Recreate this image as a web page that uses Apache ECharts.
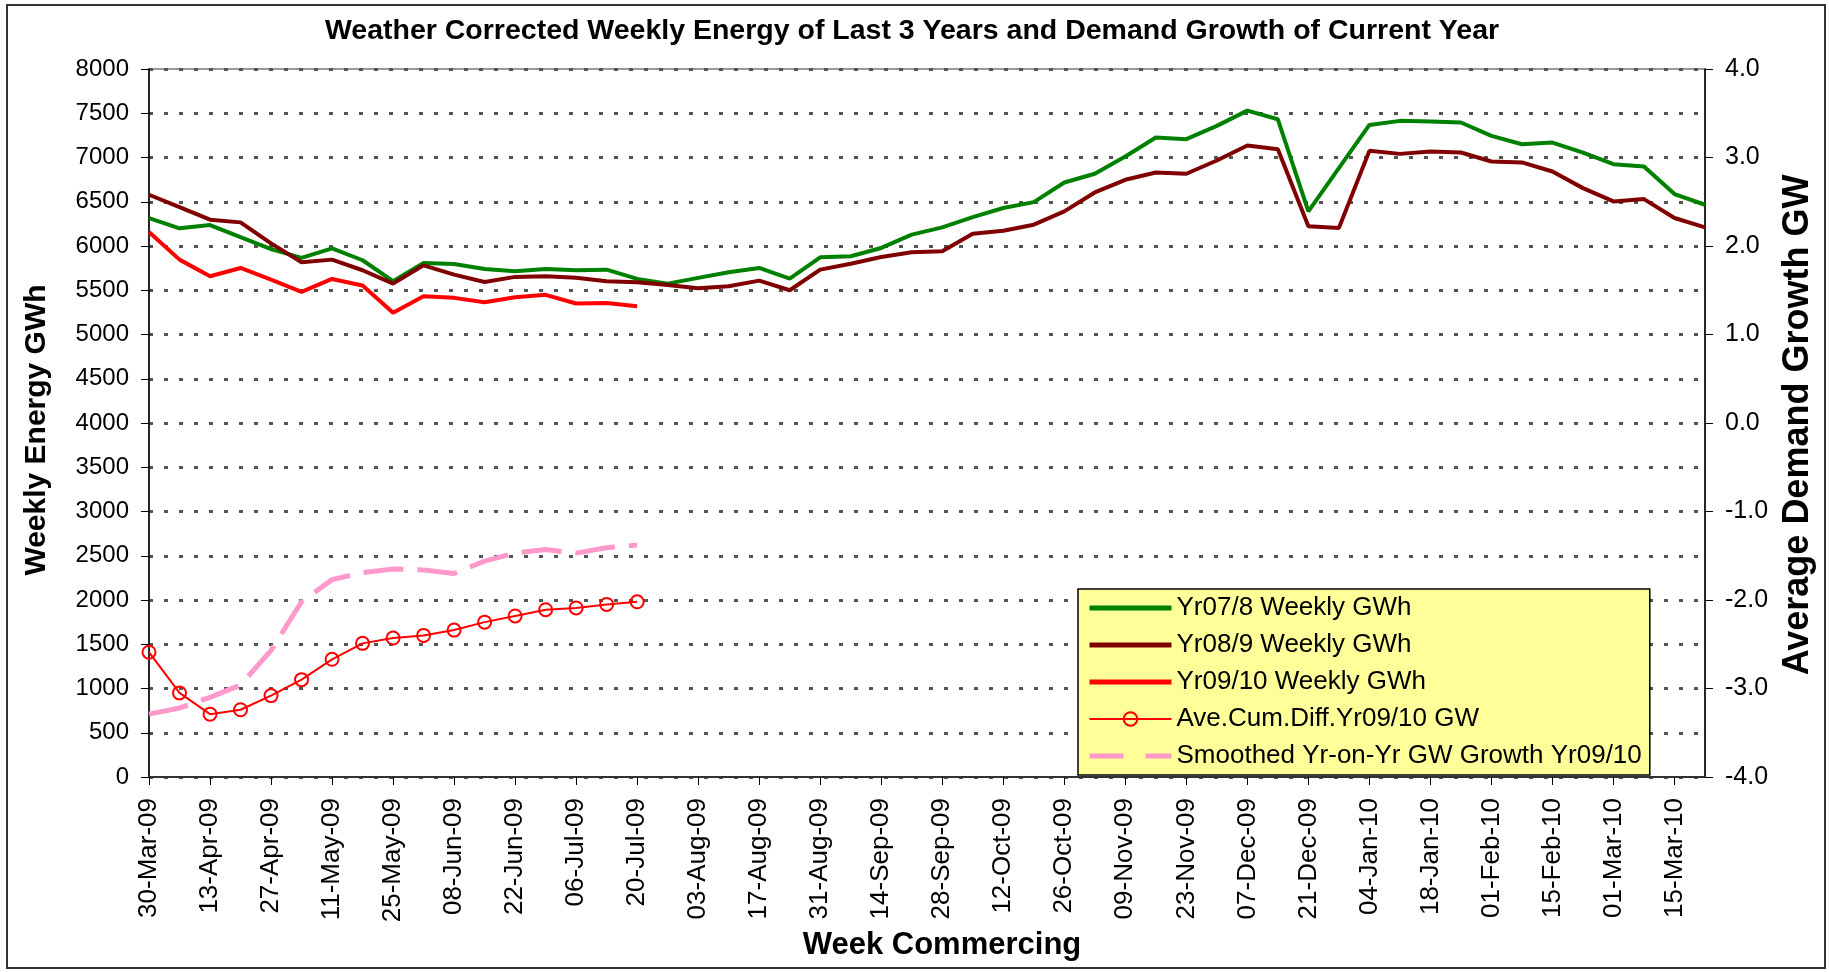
<!DOCTYPE html>
<html>
<head>
<meta charset="utf-8">
<script src="https://cdn.jsdelivr.net/npm/echarts@6/dist/echarts.min.js"></script>
<style>
html,body{margin:0;padding:0;background:#fff;}
#chart{width:1829px;height:972px;}
</style>
</head>
<body>
<div id="chart"></div>
<script>
const weeks = ["30-Mar-09","06-Apr-09","13-Apr-09","20-Apr-09","27-Apr-09","04-May-09","11-May-09","18-May-09","25-May-09","01-Jun-09",
"08-Jun-09","15-Jun-09","22-Jun-09","29-Jun-09","06-Jul-09","13-Jul-09","20-Jul-09","27-Jul-09","03-Aug-09","10-Aug-09",
"17-Aug-09","24-Aug-09","31-Aug-09","07-Sep-09","14-Sep-09","21-Sep-09","28-Sep-09","05-Oct-09","12-Oct-09","19-Oct-09",
"26-Oct-09","02-Nov-09","09-Nov-09","16-Nov-09","23-Nov-09","30-Nov-09","07-Dec-09","14-Dec-09","21-Dec-09","28-Dec-09",
"04-Jan-10","11-Jan-10","18-Jan-10","25-Jan-10","01-Feb-10","08-Feb-10","15-Feb-10","22-Feb-10","01-Mar-10","08-Mar-10",
"15-Mar-10","22-Mar-10"];

const yr0708 = [6316,6200,6237,6100,5965,5865,5974,5839,5602,5808,
5797,5741,5714,5741,5726,5733,5628,5575,5640,5703,
5752,5632,5872,5884,5978,6128,6211,6327,6429,6496,
6718,6816,7011,7226,7207,7357,7530,7432,6391,6880,
7368,7414,7406,7395,7244,7150,7169,7056,6925,6899,
6587,6466];

const yr0809 = [6579,6440,6297,6267,6030,5816,5846,5726,5575,5782,
5677,5594,5651,5658,5640,5602,5590,5560,5523,5545,
5609,5500,5733,5800,5876,5929,5940,6139,6173,6241,
6391,6605,6748,6831,6816,6966,7135,7094,6222,6203,
7075,7041,7068,7056,6955,6944,6842,6654,6504,6530,
6316,6211];

const yr0910 = [6158,5846,5658,5752,5621,5481,5628,5553,5245,5433,5414,5365,5421,5448,5350,5357,5320];

const aveCumDiff = [-2.59,-3.05,-3.29,-3.24,-3.08,-2.90,-2.67,-2.49,-2.43,-2.40,-2.34,-2.25,-2.18,-2.11,-2.09,-2.05,-2.02];

const smoothedGrowth = [-3.29,-3.22,-3.10,-2.96,-2.57,-2.02,-1.77,-1.69,-1.65,-1.66,-1.70,-1.56,-1.47,-1.43,-1.47,-1.41,-1.38];

const seriesNames = ["Yr07/8 Weekly GWh","Yr08/9 Weekly GWh","Yr09/10 Weekly GWh","Ave.Cum.Diff.Yr09/10 GW","Smoothed Yr-on-Yr GW Growth Yr09/10"];

const FONT = "'Liberation Sans', Arial, sans-serif";
const PINK_DASH = [40,14];
const chart = echarts.init(document.getElementById('chart'), null, {renderer:'canvas'});
chart.setOption({
  animation:false,
  backgroundColor:'#ffffff',
  textStyle:{fontFamily:FONT,color:'#000'},
  title:{
    text:'Weather Corrected Weekly Energy of Last 3 Years and Demand Growth of Current Year',
    left:907, top:12, textAlign:'center',
    textStyle:{fontFamily:FONT,fontSize:28.5,fontWeight:'bold',color:'#000'}
  },
  graphic:[{type:'rect',shape:{x:7,y:5,width:1818,height:963},style:{fill:'none',stroke:'#333',lineWidth:2},silent:true}],
  grid:{left:149,right:124,top:69,bottom:195,containLabel:false,outerBoundsMode:'none',show:true,borderColor:'#999',borderWidth:2,backgroundColor:'transparent'},
  legend:{
    orient:'vertical', left:1078, top:589,
    backgroundColor:'#FFFF99', borderColor:'#000', borderWidth:1.5,
    padding:[6,8,6,9], itemGap:11, itemWidth:82, itemHeight:17,
    textStyle:{fontFamily:FONT,fontSize:26,color:'#000'},
    data:[
      {name:seriesNames[0],itemStyle:{opacity:0},lineStyle:{width:5,color:'#008000'}},
      {name:seriesNames[1],itemStyle:{opacity:0},lineStyle:{width:5,color:'#800000'}},
      {name:seriesNames[2],itemStyle:{opacity:0},lineStyle:{width:5,color:'#FF0000'}},
      {name:seriesNames[3],lineStyle:{width:2,color:'#FF0000'}},
      {name:seriesNames[4],itemStyle:{opacity:0},lineStyle:{width:5,color:'#FF99CC',type:[34,22]}}
    ]
  },
  xAxis:{
    type:'category', data:weeks, boundaryGap:false,
    name:'Week Commercing', nameLocation:'middle', nameGap:153,
    nameTextStyle:{fontFamily:FONT,fontSize:31,fontWeight:'bold',color:'#000',padding:[0,0,0,30]},
    axisLine:{lineStyle:{color:'#333',width:2}},
    axisTick:{show:true,interval:1,length:8,lineStyle:{color:'#000',width:1}},
    axisLabel:{interval:1,rotate:90,margin:21,fontFamily:FONT,fontSize:26,color:'#000'},
    splitLine:{show:false}
  },
  yAxis:[{
    type:'value', min:0, max:8000, interval:500, position:'left',
    name:'Weekly Energy GWh', nameLocation:'middle', nameGap:97, nameRotate:90,
    nameTextStyle:{fontFamily:FONT,fontSize:30,fontWeight:'bold',color:'#000',padding:[0,14,0,0]},
    axisLine:{show:true,lineStyle:{color:'#000',width:1.5}},
    axisTick:{show:true,length:8,lineStyle:{color:'#000'}},
    axisLabel:{margin:20,fontFamily:FONT,fontSize:24,color:'#000',formatter:function(v){return String(v);}},
    splitLine:{show:true,lineStyle:{color:'#555',width:3,type:[4,11]}}
  },{
    type:'value', min:-4, max:4, interval:1, position:'right',
    name:'Average Demand Growth GW', nameLocation:'middle', nameGap:75, nameRotate:90,
    nameTextStyle:{fontFamily:FONT,fontSize:36,fontWeight:'bold',color:'#000',padding:[0,4,0,0]},
    axisLine:{show:true,lineStyle:{color:'#000',width:1.5}},
    axisTick:{show:true,length:8,lineStyle:{color:'#000'}},
    axisLabel:{margin:20,fontFamily:FONT,fontSize:25,color:'#000',formatter:function(v){return v.toFixed(1);}},
    splitLine:{show:false}
  }],
  series:[
    {name:seriesNames[0],type:'line',data:yr0708,yAxisIndex:0,symbol:'none',lineStyle:{color:'#008000',width:4},itemStyle:{color:'#008000'}},
    {name:seriesNames[1],type:'line',data:yr0809,yAxisIndex:0,symbol:'none',lineStyle:{color:'#800000',width:4},itemStyle:{color:'#800000'}},
    {name:seriesNames[2],type:'line',data:yr0910,yAxisIndex:0,symbol:'none',lineStyle:{color:'#FF0000',width:4},itemStyle:{color:'#FF0000'}},
    {name:seriesNames[3],type:'line',data:aveCumDiff,yAxisIndex:1,symbol:'circle',symbolSize:13,showSymbol:true,
      lineStyle:{color:'#FF0000',width:2},itemStyle:{color:'transparent',borderColor:'#FF0000',borderWidth:2}},
    {name:seriesNames[4],type:'line',data:smoothedGrowth,yAxisIndex:1,symbol:'none',
      lineStyle:{color:'#FF99CC',width:5,type:PINK_DASH},itemStyle:{color:'#FF99CC'}}
  ]
});
</script>
</body>
</html>
